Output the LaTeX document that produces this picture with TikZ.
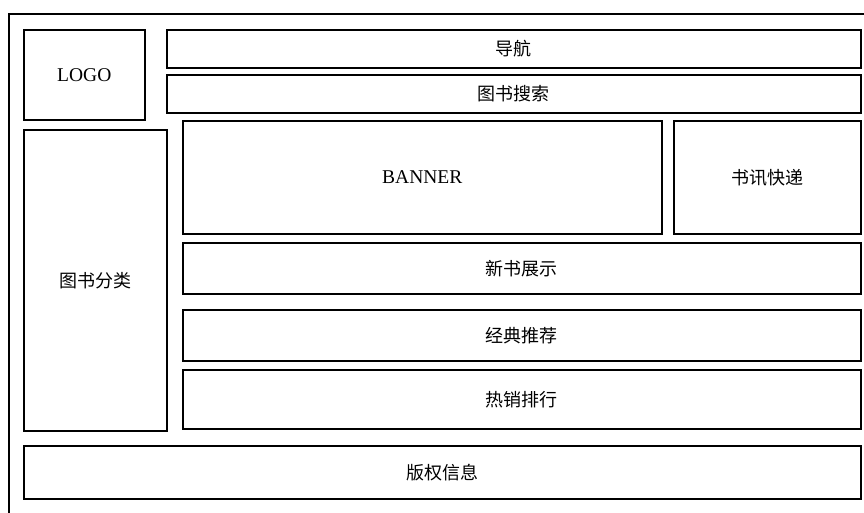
\documentclass[tikz,border=0pt]{standalone}
\usepackage{fontspec}
\setmainfont{Liberation Serif}
\newfontfamily\cjk{Noto Sans CJK SC}
\tikzset{
	box/.style={draw, line width=1.6pt, anchor=north west, inner sep=0pt},
	latin/.style={font=\fontsize{19.5}{23}\selectfont},
}
\begin{document}
\begin{tikzpicture}[x=1pt, y=-1pt]
	\fontsize{18}{22}\selectfont
	\useasboundingbox (0,0) rectangle (864,513);
	
	\coordinate (frametop) at (864,14);			% Rahmen oben
	\coordinate (framecorner) at (9,14);
	\coordinate (framebottom) at (9,513);		% Rahmen links
	\draw[line width=1.2pt] (frametop) -- (framecorner) -- (framebottom);
	
	\node[box, latin, minimum width=121pt, minimum height=90pt] (logo) at (23,29) {LOGO};
	\node[box, minimum width=694pt, minimum height=38pt] (nav) at (166,29) {\cjk 导航};
	\node[box, minimum width=694pt, minimum height=38pt] (search) at (166,74) {\cjk 图书搜索};
	\node[box, minimum width=143pt, minimum height=301pt] (category) at (23,129) {\cjk 图书分类};
	
	\node[box, latin, minimum width=479pt, minimum height=113pt] (banner) at (182,120) {BANNER};
	\node[box, minimum width=187pt, minimum height=113pt] (news) at (673,120) {\cjk 书讯快递};
	\node[box, minimum width=678pt, minimum height=51pt] (newbooks) at (182,242) {\cjk 新书展示};
	\node[box, minimum width=678pt, minimum height=51pt] (classic) at (182,309) {\cjk 经典推荐};
	\node[box, minimum width=678pt, minimum height=59pt] (hot) at (182,369) {\cjk 热销排行};
	
	\node[box, minimum width=837pt, minimum height=53pt] (copyright) at (23,445) {\cjk 版权信息};	% Fusszeile

\end{tikzpicture}
\end{document}
